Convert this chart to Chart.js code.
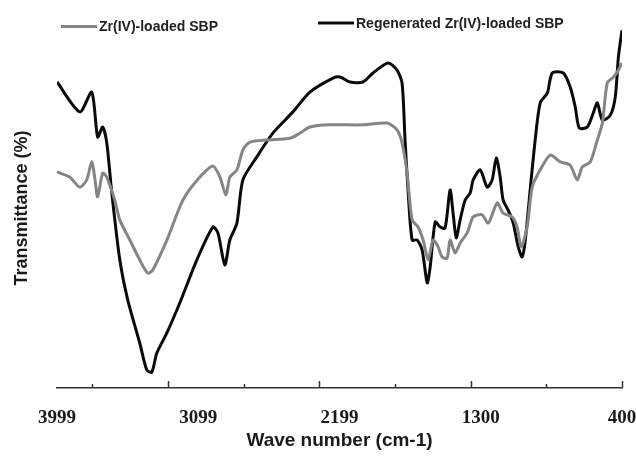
<!DOCTYPE html>
<html>
<head>
<meta charset="utf-8">
<title>FTIR spectra</title>
<script src="https://cdn.jsdelivr.net/npm/chart.js@4.4.1/dist/chart.umd.min.js"></script>
<style>
    html, body { margin: 0; padding: 0; background: #ffffff; }
    #wrap { width: 636px; height: 461px; position: relative; }
</style>
</head>
<body>
<div id="wrap"><canvas id="ftirChart" width="636" height="461"></canvas></div>
<script>
// ========================================
// SPECTRUM DATA (wave number cm-1, transmittance)
// ========================================

const loadedWave = [3999, 3918, 3854, 3810, 3778, 3759, 3740, 3708, 3682, 3631, 3599, 3535, 3472, 3421, 3389,
    3299, 3197, 3089, 3006, 2961, 2923, 2898, 2853, 2815, 2770, 2662, 2515, 2451, 2388, 2260, 2050, 1896,
    1833, 1801, 1769, 1737, 1699, 1667, 1635, 1603, 1571, 1546, 1514, 1495, 1463, 1431, 1386, 1348, 1291,
    1252, 1195, 1157, 1099, 1068, 1042, 1004, 972, 921, 857, 793, 730, 685, 653, 602, 557, 525, 494, 454,
    423, 400];
const loadedValues = [60.0, 58.6, 55.8, 57.8, 62.8, 58.6, 53.1, 59.7, 58.6, 52.2, 46.7, 41.1, 35.6, 31.9, 32.8,
    41.1, 52.2, 58.6, 61.7, 58.6, 53.6, 58.6, 60.6, 66.1, 68.3, 68.9, 69.4, 70.8, 72.5, 73.1, 73.1, 73.6,
    71.7, 68.1, 59.7, 46.7, 44.7, 41.1, 35.6, 41.1, 39.2, 36.4, 36.1, 41.1, 37.5, 40.3, 43.1, 47.5, 48.1,
    45.8, 51.4, 48.6, 47.5, 44.7, 39.2, 44.7, 55.8, 60.6, 64.7, 62.8, 61.9, 57.8, 61.4, 62.8, 68.9, 73.6,
    84.7, 86.4, 88.3, 90.3];

const regenWave = [3999, 3854, 3778, 3740, 3708, 3682, 3650, 3599, 3548, 3472, 3427, 3395, 3363, 3299, 3217,
    3108, 3006, 2974, 2930, 2898, 2853, 2815, 2726, 2624, 2496, 2388, 2241, 2196, 2132, 2050, 1986, 1890,
    1833, 1801, 1782, 1763, 1737, 1705, 1673, 1641, 1622, 1590, 1558, 1527, 1495, 1476, 1456, 1431, 1399,
    1367, 1348, 1303, 1259, 1227, 1201, 1176, 1157, 1125, 1093, 1061, 1036, 1016, 985, 953, 921, 876, 844,
    774, 730, 698, 672, 621, 583, 557, 525, 474, 443, 423, 400];
const regenValues = [85.0, 76.7, 82.2, 69.7, 72.5, 68.1, 54.2, 35.6, 24.4, 12.5, 5.0, 4.4, 9.7, 15.3, 23.6,
    35.6, 44.7, 43.1, 34.2, 41.1, 45.8, 57.8, 64.2, 70.8, 76.7, 82.2, 86.1, 86.4, 85.0, 85.0, 87.5, 90.3,
    88.3, 84.7, 68.9, 55.0, 41.1, 41.1, 38.3, 29.2, 33.6, 46.1, 44.7, 44.4, 55.0, 48.6, 41.7, 46.7, 52.2,
    54.2, 57.8, 60.6, 55.8, 57.8, 63.9, 58.6, 52.2, 49.4, 45.8, 39.2, 36.4, 41.1, 55.0, 68.9, 79.2, 81.9, 87.5,
    87.5, 83.6, 78.1, 72.2, 72.5, 76.4, 79.2, 74.4, 75.8, 80.8, 91.9, 99.4];

// Axis labels and the tick marks along the wave number axis
const labelTicks = [3999, 3099, 2199, 1300, 400];
const majorMarks = [3292, 2328, 1364, 400];
const minorMarks = [3774, 2810, 1846, 882];

const seriesNames = ['Zr(IV)-loaded SBP', 'Regenerated Zr(IV)-loaded SBP'];
const seriesColors = ['#858585', '#0a0a0a'];

// ========================================
// PLUGINS
// ========================================

// Short tick marks pointing up from the axis line
const tickMarkPlugin = {
    id: 'tickMarks',
    afterDatasetsDraw(chart) {
        const ctx = chart.ctx;
        const x = chart.scales.x;
        const base = chart.chartArea.bottom;
        ctx.save();
        ctx.strokeStyle = '#333333';
        ctx.lineWidth = 1.5;
        const draw = (vals, len) => {
            vals.forEach(v => {
                const px = Math.round(x.getPixelForValue(v)) + 0.5;
                ctx.beginPath();
                ctx.moveTo(px, base);
                ctx.lineTo(px, base - len);
                ctx.stroke();
            });
        };
        draw(majorMarks, 7);
        draw(minorMarks, 4);
        ctx.restore();
    }
};

// Legend drawn as two separate items along the top
const legendPlugin = {
    id: 'topLegend',
    afterDraw(chart) {
        const ctx = chart.ctx;
        const items = [
            { x: 61, y: 26.5 },
            { x: 318, y: 23 }
        ];
        ctx.save();
        ctx.font = 'bold 14px "Liberation Sans", Arial, sans-serif';
        ctx.textBaseline = 'middle';
        chart.data.datasets.forEach((ds, i) => {
            const it = items[i];
            ctx.strokeStyle = ds.borderColor;
            ctx.lineWidth = 3;
            ctx.beginPath();
            ctx.moveTo(it.x, it.y);
            ctx.lineTo(it.x + 36, it.y);
            ctx.stroke();
            ctx.fillStyle = '#222222';
            ctx.fillText(ds.label, it.x + 38, it.y + 1);
        });
        ctx.restore();
    }
};

// ========================================
// CHART
// ========================================

function toPoints(xs, ys) {
    return xs.map((w, i) => ({ x: w, y: ys[i] }));
}

new Chart(document.getElementById('ftirChart'), {
    type: 'line',
    data: {
        datasets: [
            {
                label: seriesNames[0],
                data: toPoints(loadedWave, loadedValues),
                borderColor: seriesColors[0],
                borderWidth: 3,
                pointRadius: 0,
                tension: 0.25,
                fill: false
            },
            {
                label: seriesNames[1],
                data: toPoints(regenWave, regenValues),
                borderColor: seriesColors[1],
                borderWidth: 3,
                pointRadius: 0,
                tension: 0.25,
                fill: false
            }
        ]
    },
    options: {
        responsive: false,
        animation: false,
        layout: {
            padding: { left: 0, right: 14, top: 28, bottom: 0 }
        },
        plugins: {
            legend: { display: false },
            tooltip: { enabled: false }
        },
        scales: {
            x: {
                type: 'linear',
                reverse: true,
                min: 400,
                max: 3999,
                afterBuildTicks: function(scale) {
                    scale.ticks = labelTicks.map(v => ({ value: v }));
                },
                afterFit: function(scale) {
                    scale.height = 73;
                    // keep the end labels from shrinking the plot width
                    scale.paddingLeft = 0;
                    scale.paddingRight = 0;
                },
                grid: { display: false },
                border: { display: true, color: '#333333', width: 1.5 },
                ticks: {
                    autoSkip: false,
                    maxRotation: 0,
                    padding: 11,
                    color: '#1a1a1a',
                    font: { family: '"Liberation Serif", "Times New Roman", serif', size: 19, weight: 'bold' },
                    callback: function(value) {
                        return String(value);
                    }
                },
                title: {
                    display: true,
                    text: 'Wave number (cm-1)',
                    color: '#1a1a1a',
                    font: { family: '"Liberation Sans", Arial, sans-serif', size: 19, weight: 'bold' },
                    padding: { top: 0, bottom: 9 }
                }
            },
            y: {
                min: 0,
                max: 100,
                afterFit: function(scale) {
                    scale.width = 57;
                },
                grid: { display: false },
                border: { display: false },
                ticks: { display: false },
                title: {
                    display: true,
                    text: 'Transmittance (%)',
                    color: '#1a1a1a',
                    font: { family: '"Liberation Sans", Arial, sans-serif', size: 18, weight: 'bold' },
                    padding: { top: 11, bottom: 0 }
                }
            }
        }
    },
    plugins: [tickMarkPlugin, legendPlugin]
});
</script>
</body>
</html>
